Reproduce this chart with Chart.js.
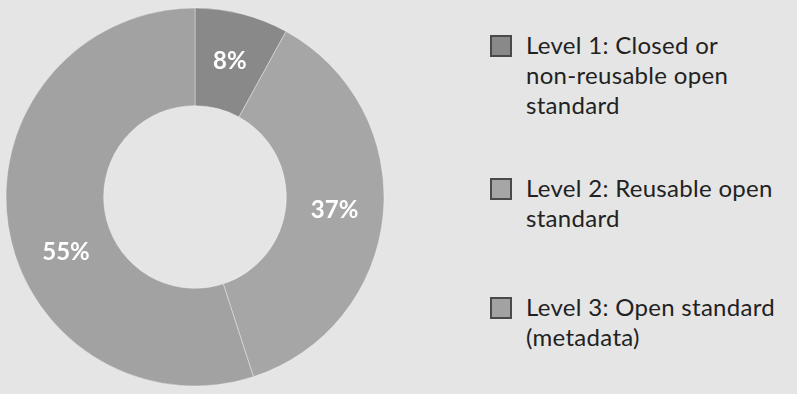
<!DOCTYPE html>
<html>
<head>
<meta charset="utf-8">
<script src="https://cdn.jsdelivr.net/npm/chart.js@4/dist/chart.umd.min.js"></script>
<style>
  html, body { margin: 0; padding: 0; background: #e5e5e5; }
  #wrap { position: relative; width: 797px; height: 394px; overflow: hidden; background: #e5e5e5; }
  #chartBox { position: absolute; left: 0; top: 0; width: 390px; height: 394px; }
  #legend { position: absolute; left: 490px; top: 30px; font-family: Lato, "Open Sans", sans-serif;
            font-size: 24px; line-height: 30px; color: #222222; letter-spacing: 0.3px; }
  .item { display: flex; align-items: flex-start; }
  .box { width: 18px; height: 18px; border: 2px solid #4a4a4a; margin-top: 5px; margin-right: 14px; flex: none; }
</style>
</head>
<body>
<div id="wrap">
  <div id="chartBox"><canvas id="donut"></canvas></div>
  <div id="legend"></div>
</div>
<script>
// share of open standards per level
const categories = [
  ['Level 1: Closed or', 'non-reusable open', 'standard'],
  ['Level 2: Reusable open', 'standard'],
  ['Level 3: Open standard', '(metadata)']
];
const shares = [8, 37, 55];
const sliceColors = ['#898989', '#a6a6a6', '#a2a2a2'];
const labelNudge = [0, 0, -14];   // degrees, shifts the in-slice label
const legendGap = [0, 53, 59];

const sliceLabels = {
  id: 'sliceLabels',
  afterDatasetsDraw(chart) {
    const ctx = chart.ctx;
    const arcs = chart.getDatasetMeta(0).data;
    ctx.save();
    ctx.fillStyle = '#ffffff';
    ctx.font = 'bold 24px Lato, sans-serif';
    ctx.textAlign = 'center';
    ctx.textBaseline = 'middle';
    arcs.forEach((arc, i) => {
      const p = arc.getProps(['x', 'y', 'startAngle', 'endAngle', 'innerRadius', 'outerRadius']);
      const a = (p.startAngle + p.endAngle) / 2 + labelNudge[i] * Math.PI / 180;
      const r = (p.innerRadius + p.outerRadius) / 2;
      ctx.fillText(shares[i] + '%', p.x + r * Math.cos(a), p.y + r * Math.sin(a));
    });
    ctx.restore();
  }
};

new Chart(document.getElementById('donut'), {
  type: 'doughnut',
  data: {
    labels: categories.map(c => c.join(' ')),
    datasets: [{
      data: shares,
      backgroundColor: sliceColors,
      borderColor: 'rgba(255,255,255,0.35)',
      borderWidth: 1
    }]
  },
  options: {
    responsive: true,
    maintainAspectRatio: false,
    animation: false,
    radius: 189,
    cutout: 94,
    layout: { padding: 0 },
    plugins: { legend: { display: false }, tooltip: { enabled: false } }
  },
  plugins: [sliceLabels]
});

// legend built from the same arrays
const legend = document.getElementById('legend');
categories.forEach((lines, i) => {
  const item = document.createElement('div');
  item.className = 'item';
  item.style.marginTop = legendGap[i] + 'px';
  const box = document.createElement('div');
  box.className = 'box';
  box.style.background = sliceColors[i];
  const text = document.createElement('div');
  text.innerHTML = lines.join('<br>');
  item.appendChild(box);
  item.appendChild(text);
  legend.appendChild(item);
});
</script>
</body>
</html>
